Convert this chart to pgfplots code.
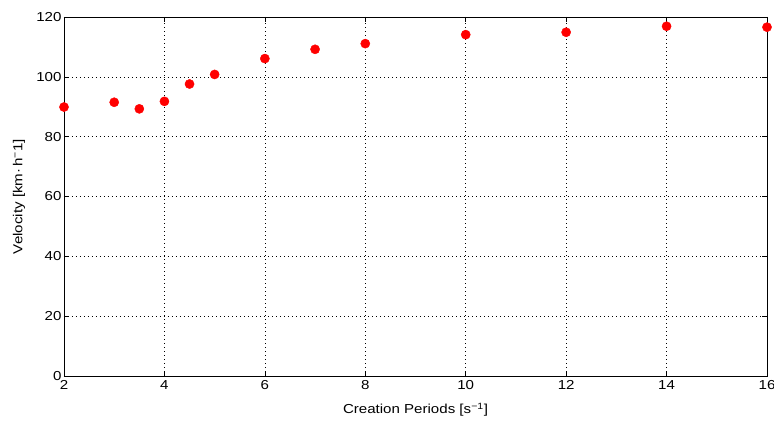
\documentclass[border=0pt]{standalone}
\usepackage{fontspec}
\setmainfont[FakeStretch=1.16]{Liberation Sans}
\usepackage{pgfplots}
\pgfplotsset{compat=1.18}
\usetikzlibrary{calc}

\begin{document}
\begin{tikzpicture}
\begin{axis}[
    scale only axis, width=703bp, height=359bp,
    xmin=2, xmax=16, ymin=0, ymax=120,
    xtick={2,4,...,16}, ytick={0,20,...,120},
    tick align=inside, major tick length=5bp,
    xtick pos=both, ytick pos=both,
    grid=major, grid style={black, line width=0.5pt, dash pattern=on 0.7bp off 3.3bp},
    axis line style={black, line width=0.8pt},
    tick style={black, line width=0.5pt},
    /pgf/number format/assume math mode=true,
    tick label style={font=\fontsize{13bp}{15bp}\selectfont},
    label style={font=\fontsize{13bp}{15bp}\selectfont},
    xlabel={Creation Periods [s\textsuperscript{−1}]},
    ylabel={Velocity [km·\,h\textsuperscript{−}1]},
    xticklabel style={yshift=-1bp},
    yticklabel style={xshift=1bp},
    xlabel style={at={(axis description cs:0.5,-0.0947)}, anchor=center},
    ylabel style={at={(axis description cs:-0.064,0.5)}, anchor=center},
    clip=false]
\addplot[only marks, mark=*, mark size=4.6bp, color=red, mark options={fill=red, draw=red}]
  coordinates {(2,89.9) (3,91.5) (3.5,89.3) (4,91.8) (4.5,97.6) (5,100.8) (6,106.1)
               (7,109.2) (8,111.1) (10,114.1) (12,114.9) (14,116.9) (16,116.6)};
\end{axis}
\pgfresetboundingbox
\path[use as bounding box] ($(current axis.south west)+(-64bp,-47bp)$) rectangle ($(current axis.north east)+(7bp,17bp)$);
\end{tikzpicture}
\end{document}
